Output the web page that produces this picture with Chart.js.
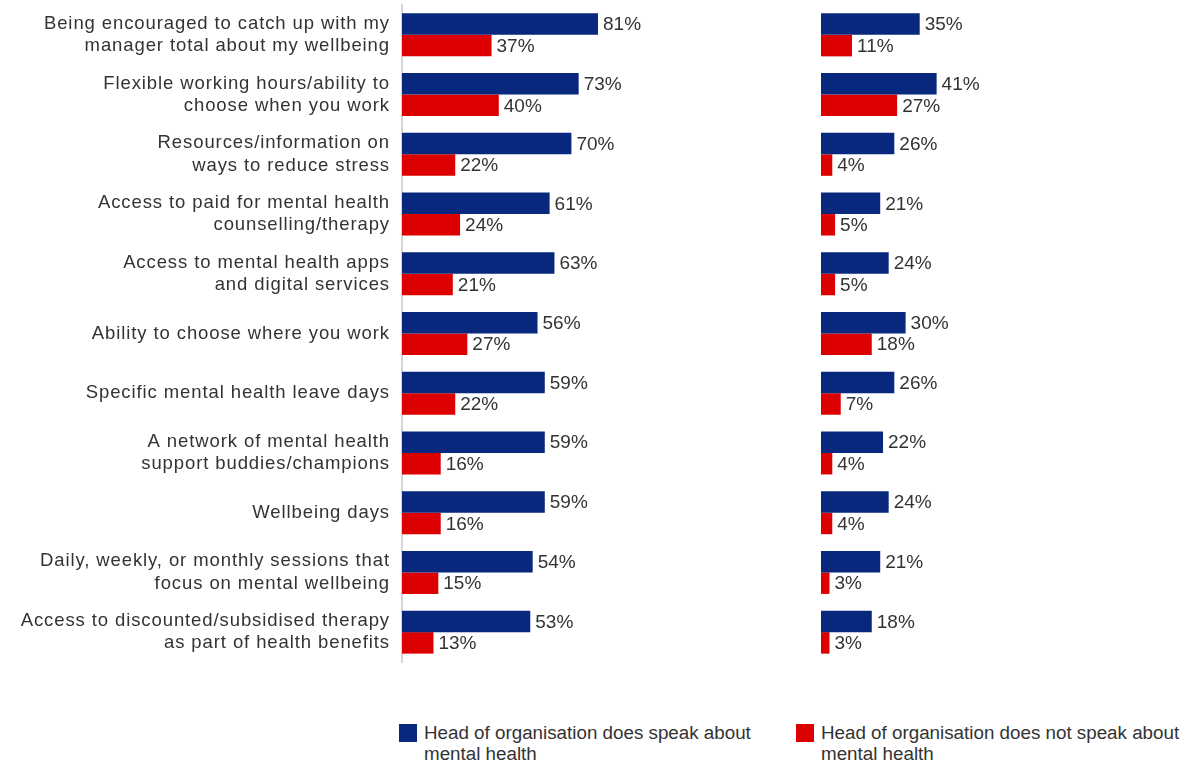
<!DOCTYPE html>
<html lang="en">
  <head>
    <meta charset="UTF-8" />
    <meta name="viewport" content="width=device-width, initial-scale=1.0" />
    <title>Workplace mental health support</title>
    <style>
      body {
        margin: 0;
        background: #fff;
        font-family: "Liberation Sans", Arial, sans-serif;
        overflow: hidden;
      }
      .panel {
        position: absolute;
        top: 0;
        height: 670px;
      }
      #leftPanel {
        left: 0;
        width: 704px;
      }
      #rightPanel {
        left: 821px;
        width: 342px;
      }
      .legend-item {
        position: absolute;
        top: 723px;
      }
      .legend-item .swatch {
        position: absolute;
        left: 0;
        top: 1px;
        width: 18px;
        height: 18px;
      }
      .legend-item .text {
        position: absolute;
        left: 25px;
        top: -1px;
        font-size: 18.8px;
        line-height: 21px;
        color: #333;
      }
    </style>
  </head>
  <body>
    <div class="panel" id="leftPanel"><canvas id="leftChart"></canvas></div>
    <div class="panel" id="rightPanel"><canvas id="rightChart"></canvas></div>
    <div id="legend"></div>

    <script src="https://cdn.jsdelivr.net/npm/chart.js@4.4.1/dist/chart.umd.min.js"></script>
    <script>
      const categories = [
        ["Being encouraged to catch up with my", "manager total about my wellbeing"],
        ["Flexible working hours/ability to", "choose when you work"],
        ["Resources/information on", "ways to reduce stress"],
        ["Access to paid for mental health", "counselling/therapy"],
        ["Access to mental health apps", "and digital services"],
        "Ability to choose where you work",
        "Specific mental health leave days",
        ["A network of mental health", "support buddies/champions"],
        "Wellbeing days",
        ["Daily, weekly, or monthly sessions that", "focus on mental wellbeing"],
        ["Access to discounted/subsidised therapy", "as part of health benefits"],
      ];

      const seriesNames = [
        "Head of organisation does speak about mental health",
        "Head of organisation does not speak about mental health",
      ];
      const seriesColors = ["#07287d", "#dc0000"];

      // left panel
      const leftSpeaks = [81, 73, 70, 61, 63, 56, 59, 59, 59, 54, 53];
      const leftNotSpeaks = [37, 40, 22, 24, 21, 27, 22, 16, 16, 15, 13];

      // right panel
      const rightSpeaks = [35, 41, 26, 21, 24, 30, 26, 22, 24, 21, 18];
      const rightNotSpeaks = [11, 27, 4, 5, 5, 18, 7, 4, 4, 3, 3];

      const fontFamily = '"Liberation Sans", Arial, sans-serif';

      // prints "NN%" just right of each bar
      const valueLabels = {
        id: "valueLabels",
        afterDatasetsDraw(chart) {
          const ctx = chart.ctx;
          ctx.save();
          ctx.letterSpacing = "0px";
          ctx.font = "19px " + fontFamily;
          ctx.fillStyle = "#333";
          ctx.textAlign = "left";
          ctx.textBaseline = "middle";
          chart.data.datasets.forEach((ds, i) => {
            chart.getDatasetMeta(i).data.forEach((bar, j) => {
              ctx.fillText(ds.data[j] + "%", bar.x + 5, bar.y + 1);
            });
          });
          ctx.restore();
        },
      };

      // category text is set a little wide
      const wideLabels = {
        id: "wideLabels",
        beforeDraw(chart) {
          chart.ctx.letterSpacing = "0.9px";
        },
        afterDraw(chart) {
          chart.ctx.letterSpacing = "0px";
        },
      };

      function makeChart(id, speaks, notSpeaks, withLabels) {
        return new Chart(document.getElementById(id), {
          type: "bar",
          data: {
            labels: categories,
            datasets: [
              { label: seriesNames[0], data: speaks, backgroundColor: seriesColors[0] },
              { label: seriesNames[1], data: notSpeaks, backgroundColor: seriesColors[1] },
            ],
          },
          options: {
            indexAxis: "y",
            responsive: true,
            maintainAspectRatio: false,
            animation: false,
            events: [],
            layout: { padding: { top: 5, bottom: 8, left: 0, right: 60 } },
            datasets: { bar: { categoryPercentage: 0.72, barPercentage: 1 } },
            plugins: {
              legend: { display: false },
              tooltip: { enabled: false },
            },
            scales: {
              x: { display: false, min: 0, max: 100 },
              y: {
                display: withLabels,
                grid: { display: false, drawTicks: false },
                border: { display: true, color: "#d6d6d6", width: 2 },
                ticks: {
                  padding: 12,
                  color: "#333",
                  font: { family: fontFamily, size: 18.5, lineHeight: 1.2 },
                },
                afterFit(scale) {
                  if (!withLabels) return;
                  // fixed label column so both panels line up
                  scale.width = 402;
                  scale.paddingTop = 0;
                  scale.paddingBottom = 0;
                },
              },
            },
          },
          plugins: withLabels ? [valueLabels, wideLabels] : [valueLabels],
        });
      }

      makeChart("leftChart", leftSpeaks, leftNotSpeaks, true);
      makeChart("rightChart", rightSpeaks, rightNotSpeaks, false);

      // legend below both panels
      const legendPos = [
        { left: 399, width: 345 },
        { left: 796, width: 375 },
      ];
      const legend = document.getElementById("legend");
      seriesNames.forEach((name, i) => {
        const item = document.createElement("div");
        item.className = "legend-item";
        item.style.left = legendPos[i].left + "px";
        const swatch = document.createElement("span");
        swatch.className = "swatch";
        swatch.style.background = seriesColors[i];
        const text = document.createElement("span");
        text.className = "text";
        text.style.width = legendPos[i].width + "px";
        text.textContent = name;
        item.appendChild(swatch);
        item.appendChild(text);
        legend.appendChild(item);
      });
    </script>
  </body>
</html>
